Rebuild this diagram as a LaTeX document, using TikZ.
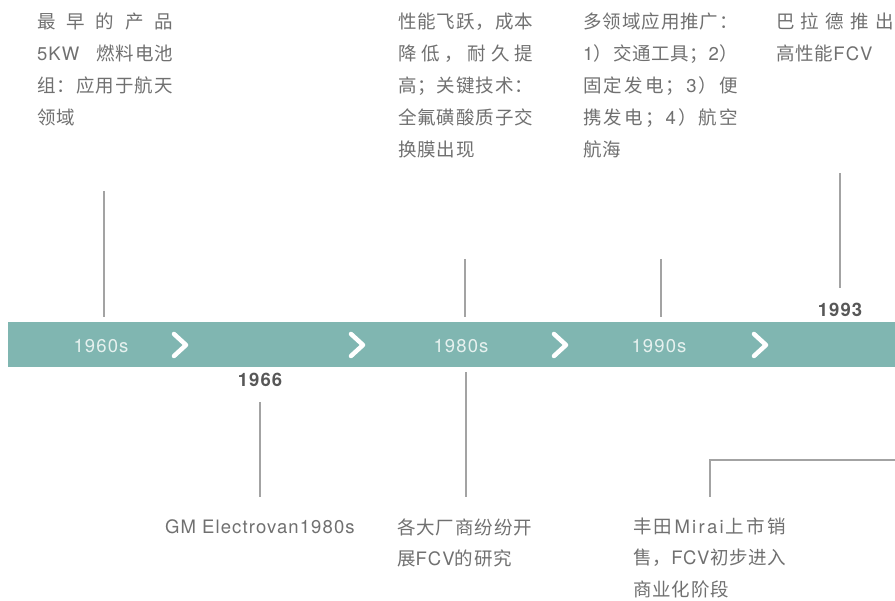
\documentclass[tikz,border=0pt]{standalone}
\usepackage{fontspec}
\setmainfont{TeX Gyre Heros}
\newfontfamily\latf[LetterSpace=6]{TeX Gyre Heros}
\newfontfamily\cjk[LetterSpace=5]{Noto Sans CJK SC}
\newcommand\lat[1]{{\latf#1}}
\def\spreadloop#1{\ifx\relax#1\else#1\hfil\expandafter\spreadloop\fi}
\newcommand\spreadln[2]{\makebox[#1][s]{\spreadloop#2\relax\unskip}}
\definecolor{bandc}{HTML}{80B6B1}
\definecolor{bandtxt}{HTML}{E6F1EF}
\definecolor{txtgray}{HTML}{707070}
\definecolor{yrgray}{HTML}{575757}
\definecolor{linegray}{HTML}{A3A3A3}
\tikzset{
  txt/.style={anchor=base west, inner sep=0pt, outer sep=0pt, text=txtgray,
    font={\cjk\fontsize{18.5}{20}\selectfont}},
  decade/.style={anchor=base, inner sep=0pt, text=bandtxt,
    font={\latf\fontsize{18.5}{20}\selectfont}},
  yr/.style={anchor=base, inner sep=0pt, text=yrgray,
    font={\latf\bfseries\fontsize{18.5}{20}\selectfont}},
  conn/.style={draw=linegray, line width=1.3pt},
  chev/.style={draw=white, line width=4.5pt, line cap=round, line join=round},
}
\begin{document}
\begin{tikzpicture}[x=1pt,y=-1pt]
\useasboundingbox (0,0) rectangle (895,601);
% band
\node[fill=bandc, inner sep=0pt, minimum width=887pt, minimum height=45pt, anchor=north west] (band) at (8,322) {};
% chevrons
\foreach \cx in {180,357,560,760}
  \draw[chev] (\cx-6,334) -- (\cx+6,345) -- (\cx-6,356);
% decades in band
\node[decade] (d60) at (101,353) {1960s};
\node[decade] (d80) at (461,353) {1980s};
\node[decade] (d90) at (659,353) {1990s};
% years
\node[yr] (y66) at (260,386.5) {1966};
\node[yr] (y93) at (840,316.5) {1993};
% column 1
\node[txt] (a1) at (37,29) {\spreadln{136pt}{最早的产品}};
\node[txt] (a2) at (37,61) {\makebox[136pt][s]{\lat{5KW}\hfil 燃料电池}};
\node[txt] (a3) at (37,93) {\spreadln{136pt}{组：应用于航天}};
\node[txt] (a4) at (37,125) {领域};
% column 2
\node[txt] (b1) at (398,29) {\spreadln{135pt}{性能飞跃，成本}};
\node[txt] (b2) at (398,61) {\spreadln{135pt}{降低，耐久提}};
\node[txt] (b3) at (398,93) {\spreadln{135pt}{高；关键技术：}};
\node[txt] (b4) at (398,125) {\spreadln{135pt}{全氟磺酸质子交}};
\node[txt] (b5) at (398,157) {换膜出现};
% column 3
\node[txt] (c1) at (583,29) {\spreadln{155pt}{多领域应用推广：}};
\node[txt] (c2) at (583,61) {\spreadln{155pt}{{\lat1}）交通工具；{\lat2}）}};
\node[txt] (c3) at (583,93) {\spreadln{155pt}{固定发电；{\lat3}）便}};
\node[txt] (c4) at (583,125) {\spreadln{155pt}{携发电；{\lat4}）航空}};
\node[txt] (c5) at (583,157) {航海};
% column 4
\node[txt] (e1) at (776,29) {\spreadln{118pt}{巴拉德推出}};
\node[txt] (e2) at (776,61) {高性能\lat{FCV}};
% bottom texts
\node[txt] (g1) at (165,533.5) {\lat{GM Electrovan1980s}};
\node[txt] (h1) at (397,534.5) {\spreadln{135pt}{各大厂商纷纷开}};
\node[txt] (h2) at (397,565.5) {展\lat{FCV}的研究};
\node[txt] (m1) at (633,534) {\spreadln{153pt}{丰田{\lat M}{\lat i}{\lat r}{\lat a}{\lat i}上市销}};
\node[txt] (m2) at (633,565) {\spreadln{153pt}{售，{\lat F}{\lat C}{\lat V}初步进入}};
\node[txt] (m3) at (633,596) {商业化阶段};
% connector end points
\coordinate (p1a) at (104,191); \coordinate (p1b) at (104,317);
\coordinate (p2a) at (465,259); \coordinate (p2b) at (465,317);
\coordinate (p3a) at (661,259); \coordinate (p3b) at (661,317);
\coordinate (p4a) at (840,173); \coordinate (p4b) at (840,288);
\coordinate (q1a) at (260,402); \coordinate (q1b) at (260,497);
\coordinate (q2a) at (466,372); \coordinate (q2b) at (466,497);
\coordinate (q3a) at (710,497); \coordinate (q3b) at (710,460); \coordinate (q3c) at (895,460);
\draw[conn] (p1a) -- (p1b);
\draw[conn] (p2a) -- (p2b);
\draw[conn] (p3a) -- (p3b);
\draw[conn] (p4a) -- (p4b);
\draw[conn] (q1a) -- (q1b);
\draw[conn] (q2a) -- (q2b);
\draw[conn] (q3a) -- (q3b) -- (q3c);
\end{tikzpicture}
\end{document}
